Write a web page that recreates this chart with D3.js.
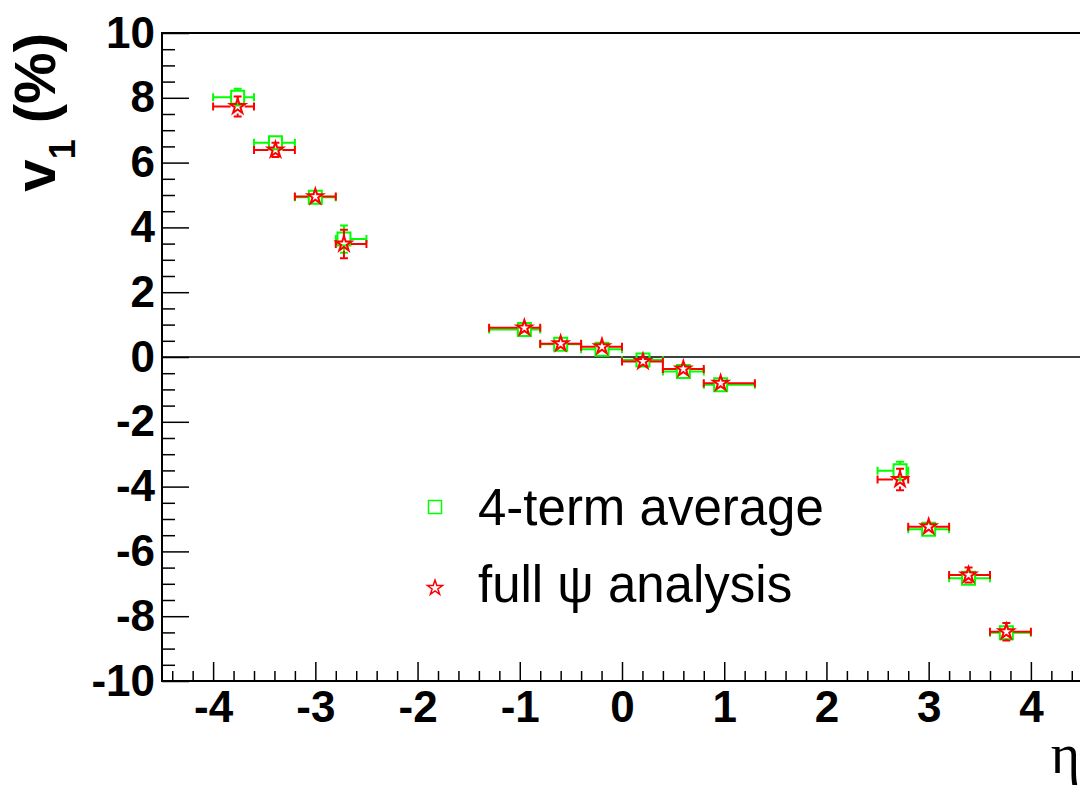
<!DOCTYPE html>
<meta charset="utf-8">
<style>
  body { margin: 0; background: #fff; }
  svg { display: block; }
  .tick text { font-family: "Liberation Sans", Arial, sans-serif; font-weight: bold; font-size: 44px; fill: #000; }
  .tick line { stroke: #000; stroke-width: 1.5; }
  .domain { display: none; }
</style>
<body>
<script src="https://d3js.org/d3.v7.min.js"></script>
<script>
  // eta bins (point position and bin edges)
  var eta   = [-3.76, -3.39, -3.0, -2.72, -0.955, -0.60, -0.196, 0.205, 0.60, 0.965, 2.72, 3.0, 3.39, 3.76]
  var etaLo = [-4.0, -3.6, -3.2, -2.8, -1.3, -0.8, -0.4, 0.0, 0.4, 0.8, 2.5, 2.8, 3.2, 3.6]
  var etaHi = [-3.6, -3.2, -2.8, -2.5, -0.8, -0.4, 0.0, 0.4, 0.8, 1.3, 2.8, 3.2, 3.6, 4.0]

  // 4-term average
  var v1Avg    = [8.02, 6.61, 4.93, 3.64, 0.85, 0.39, 0.24, -0.09, -0.45, -0.86, -3.51, -5.32, -6.83, -8.51]
  var v1AvgErr = [0.26, 0.15, 0.15, 0.42, 0.12, 0.10, 0.10, 0.10, 0.10, 0.12, 0.28, 0.15, 0.15, 0.20]

  // full psi analysis
  var v1Full    = [7.73, 6.39, 4.95, 3.49, 0.90, 0.41, 0.32, -0.14, -0.37, -0.81, -3.78, -5.24, -6.73, -8.48]
  var v1FullErr = [0.31, 0.22, 0.20, 0.44, 0.12, 0.10, 0.10, 0.10, 0.10, 0.12, 0.33, 0.20, 0.23, 0.27]

  var xMajor = [-4, -3, -2, -1, 0, 1, 2, 3, 4]
  var yMajor = [-10, -8, -6, -4, -2, 0, 2, 4, 6, 8, 10]

  var width = 1080, height = 791

  var x = d3.scaleLinear().domain([-4.5, 4.5]).range([162, 1082])
  var y = d3.scaleLinear().domain([-10, 10]).range([681, 33])

  var svg = d3.select('body').append('svg')
    .attr('width', width)
    .attr('height', height)

  // plain hyphen minus, like the original
  var fmt = function (d) { return String(d) }

  // minor ticks
  var xMinor = d3.range(-44, 45, 2).map(function (d) { return d / 10 })
    .filter(function (d) { return Math.abs(d - Math.round(d)) > 1e-6 })
  var yMinor = d3.range(-19, 20, 1).map(function (d) { return d / 2 })
    .filter(function (d) { return Math.abs(d / 2 - Math.round(d / 2)) > 1e-6 })

  svg.append('g')
    .attr('transform', 'translate(0,' + y(-10) + ')')
    .call(d3.axisBottom(x).tickValues(xMinor).tickSize(-10).tickFormat(''))
  svg.append('g')
    .attr('transform', 'translate(0,' + y(-10) + ')')
    .call(d3.axisBottom(x).tickValues(xMajor).tickSize(-19).tickPadding(10).tickFormat(fmt))

  svg.append('g')
    .attr('transform', 'translate(' + x(-4.5) + ',0)')
    .call(d3.axisLeft(y).tickValues(yMinor).tickSize(-13).tickFormat(''))
  svg.append('g')
    .attr('transform', 'translate(' + x(-4.5) + ',0)')
    .call(d3.axisLeft(y).tickValues(yMajor).tickSize(-27).tickPadding(7).tickFormat(fmt))

  // frame
  svg.append('path')
    .attr('d', 'M' + x(4.5) + ',' + y(10) + 'H' + x(-4.5) + 'V' + y(-10) + 'H' + x(4.5))
    .attr('fill', 'none')
    .attr('stroke', '#000')
    .attr('stroke-width', 2)

  // zero line
  svg.append('line')
    .attr('x1', x(-4.5)).attr('x2', x(4.5))
    .attr('y1', y(0)).attr('y2', y(0))
    .attr('stroke', '#000')
    .attr('stroke-width', 1.5)

  // error bars + markers for one series
  function drawSeries(vals, errs, color, symbol, half) {
    var g = svg.append('g')
      .attr('stroke', color)
      .attr('fill', 'none')
      .attr('stroke-width', 2)
    var cap = 4
    eta.forEach(function (e, i) {
      var cx = x(e), cy = y(vals[i])
      var x0 = x(etaLo[i]), x1 = x(etaHi[i])
      var yt = y(vals[i] + errs[i]), yb = y(vals[i] - errs[i])
      var p = ''
      if (cx - half > x0) p += 'M' + x0 + ',' + cy + 'H' + (cx - half)
      if (cx + half < x1) p += 'M' + (cx + half) + ',' + cy + 'H' + x1
      p += 'M' + x0 + ',' + (cy - cap) + 'V' + (cy + cap)
      p += 'M' + x1 + ',' + (cy - cap) + 'V' + (cy + cap)
      if (yt < cy - half) {
        p += 'M' + cx + ',' + (cy - half) + 'V' + yt
        p += 'M' + (cx - cap) + ',' + yt + 'H' + (cx + cap)
      }
      if (yb > cy + half) {
        p += 'M' + cx + ',' + (cy + half) + 'V' + yb
        p += 'M' + (cx - cap) + ',' + yb + 'H' + (cx + cap)
      }
      g.append('path').attr('d', p)
    })
    g.selectAll('.mk')
      .data(eta)
      .enter().append('path')
      .attr('class', 'mk')
      .attr('transform', function (d, i) { return 'translate(' + x(d) + ',' + y(vals[i]) + ')' })
      .attr('d', symbol)
  }

  var squareSym = d3.symbol().type(d3.symbolSquare).size(13 * 13)
  var starSym = d3.symbol().type(d3.symbolStar).size(70)

  drawSeries(v1Avg, v1AvgErr, '#00ff00', squareSym, 6.5)
  drawSeries(v1Full, v1FullErr, '#ff0000', starSym, 7)

  // legend
  var legendItems = [
    { label: '4-term average', color: '#00ff00', sym: squareSym },
    { label: 'full \u03c8 analysis', color: '#ff0000', sym: starSym }
  ]
  var leg = svg.append('g')
  leg.selectAll('path')
    .data(legendItems)
    .enter().append('path')
    .attr('transform', function (d, i) { return 'translate(435,' + (507 + i * 81) + ')' })
    .attr('d', function (d) { return d.sym() })
    .attr('fill', 'none')
    .attr('stroke', function (d) { return d.color })
    .attr('stroke-width', 1.5)
  leg.selectAll('text')
    .data(legendItems)
    .enter().append('text')
    .attr('x', 478)
    .attr('y', function (d, i) { return 525 + i * 77 })
    .attr('font-family', '"Liberation Sans", Arial, sans-serif')
    .attr('font-size', 51)
    .attr('fill', '#000')
    .text(function (d) { return d.label })

  // axis titles
  var yt = svg.append('text')
    .attr('transform', 'translate(55,33) rotate(-90)')
    .attr('text-anchor', 'end')
    .attr('font-family', '"Liberation Sans", Arial, sans-serif')
    .attr('font-weight', 'bold')
    .attr('font-size', 58)
    .attr('fill', '#000')
  yt.append('tspan').text('v')
  yt.append('tspan').attr('font-size', 36).attr('dy', 20).text('1')
  yt.append('tspan').attr('dy', -20).text(' (%)')

  svg.append('text')
    .attr('x', 1080)
    .attr('y', 773)
    .attr('text-anchor', 'end')
    .attr('font-family', '"Liberation Serif", "DejaVu Serif", serif')
    .attr('font-size', 56)
    .attr('fill', '#000')
    .text('\u03b7')
</script>
</body>
